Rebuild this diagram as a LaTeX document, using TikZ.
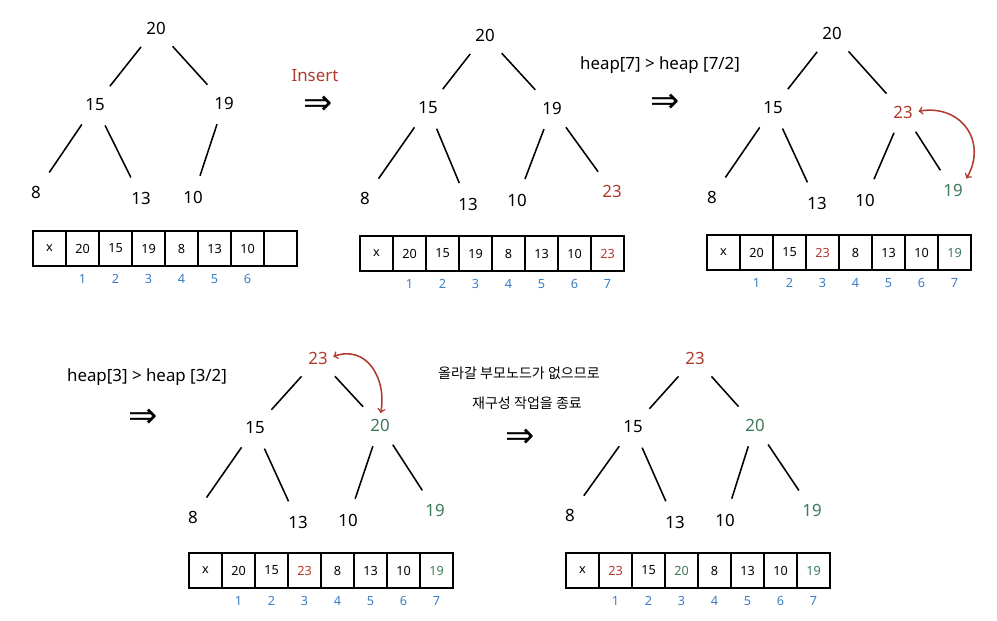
\documentclass[tikz,border=0pt]{standalone}
\usepackage{fontspec}
\setmainfont{Noto Sans}
\newfontfamily\kofont{Noto Sans CJK KR}
\newfontfamily\symfont{DejaVu Sans}
\usetikzlibrary{positioning}

\definecolor{hred}{HTML}{B03A2E}
\definecolor{hgreen}{HTML}{3D7A5A}
\definecolor{hblue}{HTML}{3B7DC4}

\tikzset{
  num/.style={font=\large, inner sep=1pt},
  link/.style={line width=1.1pt, shorten <=10pt, shorten >=10pt},
  cell/.style={draw, line width=1pt, minimum width=33*0.025cm, minimum height=35*0.025cm, inner sep=0pt, font=\small},
  idx/.style={text=hblue, font=\small, inner sep=1pt},
  swap/.style={<->, hred, line width=1.1pt, shorten <=3pt, shorten >=3pt},
  step arrow/.style={font=\symfont\Huge, inner sep=0pt}
}

\begin{document}
\begin{tikzpicture}[x=0.025cm,y=0.025cm]
  \useasboundingbox (0,0) rectangle (997,-620);

  % first heap
  \node[num] (a1) at (156,-28) {20};
  \node[num] (a2) at (95,-105) {15};
  \node[num] (a3) at (224,-103) {19};
  \node[num] (a4) at (36,-192) {8};
  \node[num] (a5) at (141,-198) {13};
  \node[num] (a6) at (193,-197) {10};
  \draw[link] (a1) -- (a2);
  \draw[link] (a1) -- (a3);
  \draw[link] (a2) -- (a4);
  \draw[link] (a2) -- (a5);
  \draw[link] (a3) -- (a6);
  \foreach \v [count=\i from 0] in {x,20,15,19,8,13,10,{}}
    \node[cell] (ha\i) at ({49.5+33*\i},-248.5) {\v};
  \foreach \i in {1,...,6}
    \node[idx, below=4pt of ha\i] {\i};

  \node[text=hred, font=\large] (ins) at (315,-76) {Insert};
  \node[step arrow] (s1) at (318,-105) {⇒};

  % after insert
  \node[num] (b1) at (485,-35) {20};
  \node[num] (b2) at (428,-108) {15};
  \node[num] (b3) at (552,-108) {19};
  \node[num] (b4) at (365,-198) {8};
  \node[num] (b5) at (468,-204) {13};
  \node[num] (b6) at (517,-200) {10};
  \node[num, text=hred] (b7) at (612,-191) {23};
  \draw[link] (b1) -- (b2);
  \draw[link] (b1) -- (b3);
  \draw[link] (b2) -- (b4);
  \draw[link] (b2) -- (b5);
  \draw[link] (b3) -- (b6);
  \draw[link] (b3) -- (b7);
  \foreach \v/\c [count=\i from 0] in {x/black,20/black,15/black,19/black,8/black,13/black,10/black,23/hred}
    \node[cell, text=\c] (hb\i) at ({376.5+33*\i},-253.5) {\v};
  \foreach \i in {1,...,7}
    \node[idx, below=4pt of hb\i] {\i};

  \node[font=\large] (cmp1) at (660,-65) {heap[7] > heap [7/2]};
  \node[step arrow] (s2) at (665,-103) {⇒};

  % swap 7 and 3
  \node[num] (c1) at (832,-33) {20};
  \node[num] (c2) at (773,-108) {15};
  \node[num, text=hred] (c3) at (903,-112) {23};
  \node[num] (c4) at (712,-197) {8};
  \node[num] (c5) at (817,-203) {13};
  \node[num] (c6) at (865,-200) {10};
  \node[num, text=hgreen] (c7) at (953,-190) {19};
  \draw[link] (c1) -- (c2);
  \draw[link] (c1) -- (c3);
  \draw[link] (c2) -- (c4);
  \draw[link] (c2) -- (c5);
  \draw[link] (c3) -- (c6);
  \draw[link] (c3) -- (c7);
  \draw[swap] (c3.east) to[out=10, in=60, looseness=1.4] (c7.north east);
  \foreach \v/\c [count=\i from 0] in {x/black,20/black,15/black,23/hred,8/black,13/black,10/black,19/hgreen}
    \node[cell, text=\c] (hc\i) at ({723.5+33*\i},-252.5) {\v};
  \foreach \i in {1,...,7}
    \node[idx, below=4pt of hc\i] {\i};

  \node[font=\large] (cmp2) at (147,-377) {heap[3] > heap [3/2]};
  \node[step arrow] (s3) at (143,-418) {⇒};

  % swap 3 and 1
  \node[num, text=hred] (d1) at (318,-358) {23};
  \node[num] (d2) at (255,-428) {15};
  \node[num, text=hgreen] (d3) at (380,-425) {20};
  \node[num] (d4) at (193,-517) {8};
  \node[num] (d5) at (298,-522) {13};
  \node[num] (d6) at (348,-520) {10};
  \node[num, text=hgreen] (d7) at (435,-510) {19};
  \draw[link] (d1) -- (d2);
  \draw[link] (d1) -- (d3);
  \draw[link] (d2) -- (d4);
  \draw[link] (d2) -- (d5);
  \draw[link] (d3) -- (d6);
  \draw[link] (d3) -- (d7);
  \draw[swap] (d1.east) to[out=20, in=80, looseness=1.3] (d3.north);
  \foreach \v/\c [count=\i from 0] in {x/black,20/black,15/black,23/hred,8/black,13/black,10/black,19/hgreen}
    \node[cell, text=\c] (hd\i) at ({205.5+33*\i},-570.5) {\v};
  \foreach \i in {1,...,7}
    \node[idx, below=4pt of hd\i] {\i};

  \node[font=\kofont] (msg1) at (519,-373) {올라갈 부모노드가 없으므로};
  \node[font=\kofont] (msg2) at (527,-403) {재구성 작업을 종료};
  \node[step arrow] (s4) at (520,-438) {⇒};

  % result
  \node[num, text=hred] (e1) at (695,-358) {23};
  \node[num] (e2) at (633,-427) {15};
  \node[num, text=hgreen] (e3) at (755,-425) {20};
  \node[num] (e4) at (570,-515) {8};
  \node[num] (e5) at (675,-522) {13};
  \node[num] (e6) at (725,-520) {10};
  \node[num, text=hgreen] (e7) at (812,-510) {19};
  \draw[link] (e1) -- (e2);
  \draw[link] (e1) -- (e3);
  \draw[link] (e2) -- (e4);
  \draw[link] (e2) -- (e5);
  \draw[link] (e3) -- (e6);
  \draw[link] (e3) -- (e7);
  \foreach \v/\c [count=\i from 0] in {x/black,23/hred,15/black,20/hgreen,8/black,13/black,10/black,19/hgreen}
    \node[cell, text=\c] (he\i) at ({582.5+33*\i},-570.5) {\v};
  \foreach \i in {1,...,7}
    \node[idx, below=4pt of he\i] {\i};
\end{tikzpicture}
\end{document}
